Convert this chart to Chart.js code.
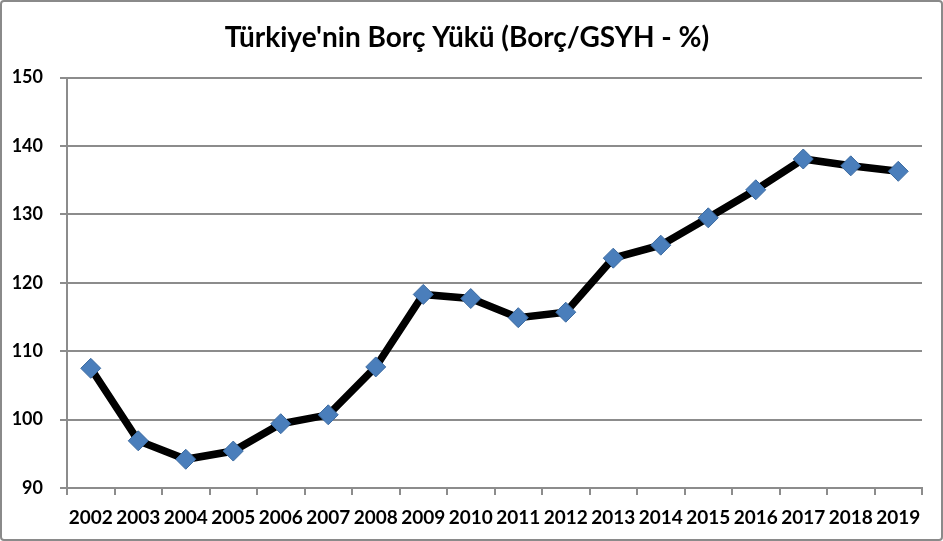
<!DOCTYPE html>
<html>
<head>
<meta charset="utf-8">
<script src="https://cdn.jsdelivr.net/npm/chart.js@4/dist/chart.umd.min.js"></script>
<style>
  html, body { margin: 0; padding: 0; background: #fff; }
  #wrap { position: relative; width: 943px; height: 541px; box-sizing: border-box; border: 2px solid #8a8a8a; border-radius: 4px; }
  canvas { display: block; }
</style>
</head>
<body>
<div id="wrap"><canvas id="chart" width="939" height="537"></canvas></div>
<script>
// Data
const years = ["2002","2003","2004","2005","2006","2007","2008","2009","2010",
  "2011","2012","2013","2014","2015","2016","2017","2018","2019"];
const debtRatio = [107.5, 96.9, 94.2, 95.4, 99.4, 100.7, 107.7, 118.3, 117.7,
  114.9, 115.7, 123.6, 125.5, 129.5, 133.6, 138.1, 137.1, 136.3];
const yMin = 90, yMax = 150, yStep = 10;

const fontFamily = 'Lato, "Liberation Sans", Arial, sans-serif';
const gridColor = '#8c8c8c';

const ctx = document.getElementById('chart').getContext('2d');
new Chart(ctx, {
  type: 'line',
  data: {
    labels: years,
    datasets: [{
      data: debtRatio,
      borderColor: '#000',
      borderWidth: 7.5,
      tension: 0,
      pointStyle: 'rectRot',
      pointRadius: 10,
      pointBackgroundColor: '#4a7ebb',
      pointBorderColor: '#3b6aa0',
      pointBorderWidth: 1
    }]
  },
  options: {
    responsive: false,
    animation: false,
    layout: { padding: { left: 10, right: 19, top: 4, bottom: 12 } },
    plugins: {
      legend: { display: false },
      tooltip: { enabled: false },
      title: {
        display: true,
        text: "Türkiye'nin Borç Yükü (Borç/GSYH - %)",
        color: '#000',
        font: { family: fontFamily, size: 28, weight: 'bold' },
        padding: { top: 15, bottom: 23 }
      }
    },
    scales: {
      x: {
        offset: true,
        // chart.js reserves tick padding twice; trim the box to tick + padding + label
        afterFit: (scale) => { scale.paddingLeft = 0; scale.paddingRight = 0; scale.height = 39; },
        grid: { offset: true, drawOnChartArea: false, drawTicks: true, tickLength: 7, color: gridColor, lineWidth: 2 },
        border: { display: true, color: gridColor, width: 2 },
        ticks: { color: '#000', font: { family: fontFamily, size: 19, weight: 'bold', lineHeight: 1 }, padding: 13, maxRotation: 0, autoSkip: false }
      },
      y: {
        min: yMin,
        max: yMax,
        afterFit: (scale) => { scale.width = 55; },
        grid: { color: gridColor, lineWidth: 2, tickLength: 7 },
        border: { display: true, color: gridColor, width: 2 },
        ticks: { stepSize: yStep, color: '#000', font: { family: fontFamily, size: 18, weight: 'bold' }, padding: 17 }
      }
    }
  }
});
</script>
</body>
</html>
